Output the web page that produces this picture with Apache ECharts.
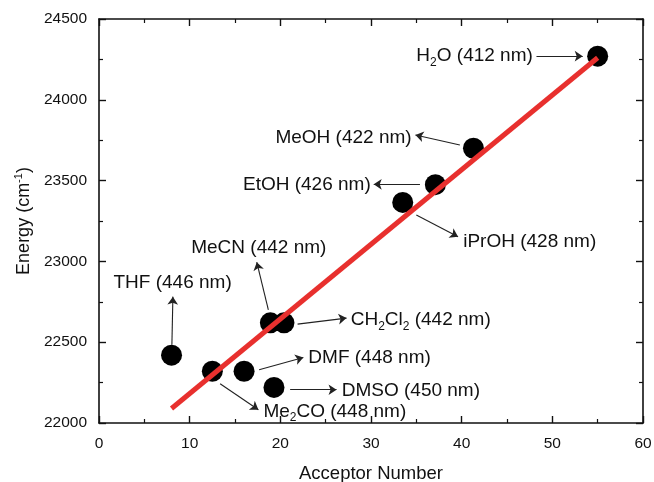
<!DOCTYPE html>
<html><head><meta charset="utf-8">
<script src="https://cdn.jsdelivr.net/npm/echarts@6/dist/echarts.min.js"></script>
<style>html,body{margin:0;padding:0;background:#fff}#c{width:654px;height:482px}</style>
</head><body><div id="c"></div>
<script>
// ---- data ----
const solvents = ['H{sub|2}O', 'MeOH', 'EtOH', 'iPrOH', 'MeCN', 'CH{sub|2}Cl{sub|2}', 'THF', 'DMF', 'DMSO', 'Me{sub|2}CO'];
const acceptorNumber = [55.0, 41.3, 37.1, 33.5, 18.9, 20.4, 8.0, 16.0, 19.3, 12.5];
const energy = [24270, 23700, 23475, 23365, 22620, 22620, 22420, 22320, 22220, 22320];
const wavelengthNm = [412, 422, 426, 428, 442, 442, 446, 448, 450, 448];
const fitX = [8, 55];
const fitY = [22090, 24260];
const xTickLabels = [0, 10, 20, 30, 40, 50, 60];
const yTickLabels = [22000, 22500, 23000, 23500, 24000, 24500];

// ---- annotation layout (data units) ----
const arrowFrom = [[48.25, 24270], [39.8, 23720], [35.4, 23477], [35.0, 23287], [18.68, 22700], [21.9, 22612], [8.04, 22484], [17.66, 22329], [21.08, 22206], [13.36, 22243]];
const arrowTo   = [[53.35, 24270], [34.9, 23782], [30.3, 23477], [39.6, 23153], [17.4, 22995], [27.3, 22649], [8.15, 22782], [22.54, 22405], [26.2, 22206], [17.58, 22082]];
const labelAt   = [[47.85, 24270], [34.48, 23768], [29.97, 23477], [40.17, 23120], [10.17, 23082], [27.76, 22638], [1.6, 22865], [23.09, 22402], [26.77, 22200], [18.13, 22072]];
const labelSide = ['left', 'left', 'left', 'right', 'right', 'right', 'right', 'right', 'right', 'right'];

const FONT = 'Liberation Sans, Arial, sans-serif';
const INK = '#111';

const points = acceptorNumber.map((x, i) => [x, energy[i]]);
const fitLine = fitX.map((x, i) => [x, fitY[i]]);
const arrows = arrowFrom.map((p, i) => ({ coords: [p, arrowTo[i]] }));
const labels = labelAt.map((p, i) => ({
  value: p,
  label: { position: labelSide[i] }
}));
const labelText = solvents.map((s, i) => s + ' (' + wavelengthNm[i] + ' nm)');

const xMin = xTickLabels[0], xMax = xTickLabels[xTickLabels.length - 1];
const yMin = yTickLabels[0], yMax = yTickLabels[yTickLabels.length - 1];

const axisLine = { show: true, onZero: false, lineStyle: { color: '#111', width: 1.6 } };
const axisTick = { show: true, inside: true, length: 7, lineStyle: { color: '#111', width: 1.4 } };
const minorTick = { show: true, splitNumber: 2, length: 4, lineStyle: { color: '#111', width: 1.2 } };
const plain = v => String(v);

const chart = echarts.init(document.getElementById('c'), null, { renderer: 'canvas' });
chart.setOption({
  backgroundColor: '#fff',
  animation: false,
  textStyle: { fontFamily: FONT },
  grid: { left: 99, right: 11, top: 19, bottom: 59, containLabel: false, outerBoundsMode: 'none' },
  xAxis: [{
    type: 'value', min: xMin, max: xMax, interval: 10, position: 'bottom',
    name: 'Acceptor Number', nameLocation: 'middle', nameGap: 41,
    nameTextStyle: { fontSize: 18.5, color: INK, fontFamily: FONT },
    axisLine, axisTick, minorTick,
    axisLabel: { fontSize: 15.5, color: INK, margin: 13, fontFamily: FONT, formatter: plain },
    splitLine: { show: false }
  }, {
    type: 'value', min: xMin, max: xMax, interval: 10, position: 'top',
    axisLine, axisTick, minorTick, axisLabel: { show: false }, splitLine: { show: false }
  }],
  yAxis: [{
    type: 'value', min: yMin, max: yMax, interval: 500, position: 'left',
    name: '{a|Energy (cm}{s|-1}{a|)}', nameLocation: 'middle', nameGap: 63,
    nameTextStyle: {
      color: INK, fontFamily: FONT,
      rich: {
        a: { fontSize: 18, color: INK, fontFamily: FONT, lineHeight: 22 },
        s: { fontSize: 11, color: INK, fontFamily: FONT, verticalAlign: 'top', lineHeight: 22 }
      }
    },
    axisLine, axisTick, minorTick,
    axisLabel: { fontSize: 15.5, color: INK, margin: 12, fontFamily: FONT, formatter: plain },
    splitLine: { show: false }
  }, {
    type: 'value', min: yMin, max: yMax, interval: 500, position: 'right',
    axisLine, axisTick, minorTick, axisLabel: { show: false }, splitLine: { show: false }
  }],
  series: [{
    type: 'lines', coordinateSystem: 'cartesian2d', xAxisIndex: 0, yAxisIndex: 0,
    data: arrows, symbol: ['none', 'arrow'], symbolSize: 8,
    lineStyle: { color: '#222', width: 1.1, opacity: 1 }, z: 2, silent: true
  }, {
    type: 'scatter', xAxisIndex: 0, yAxisIndex: 0,
    data: points, symbol: 'circle', symbolSize: 21,
    itemStyle: { color: '#000', opacity: 1 }, z: 3, silent: true
  }, {
    type: 'line', xAxisIndex: 0, yAxisIndex: 0,
    data: fitLine, showSymbol: false, symbol: 'none',
    lineStyle: { color: '#e8302e', width: 5 }, z: 4, silent: true
  }, {
    type: 'scatter', xAxisIndex: 0, yAxisIndex: 0,
    data: labels, symbolSize: 0, z: 5, silent: true,
    itemStyle: { opacity: 1 },
    label: {
      show: true, distance: 0, fontSize: 19, color: INK, fontFamily: FONT,
      formatter: p => labelText[p.dataIndex],
      rich: {
        sub: { fontSize: 12, color: INK, fontFamily: FONT, verticalAlign: 'bottom', padding: [0, 0, -3, 0] }
      }
    }
  }]
});
</script></body></html>
